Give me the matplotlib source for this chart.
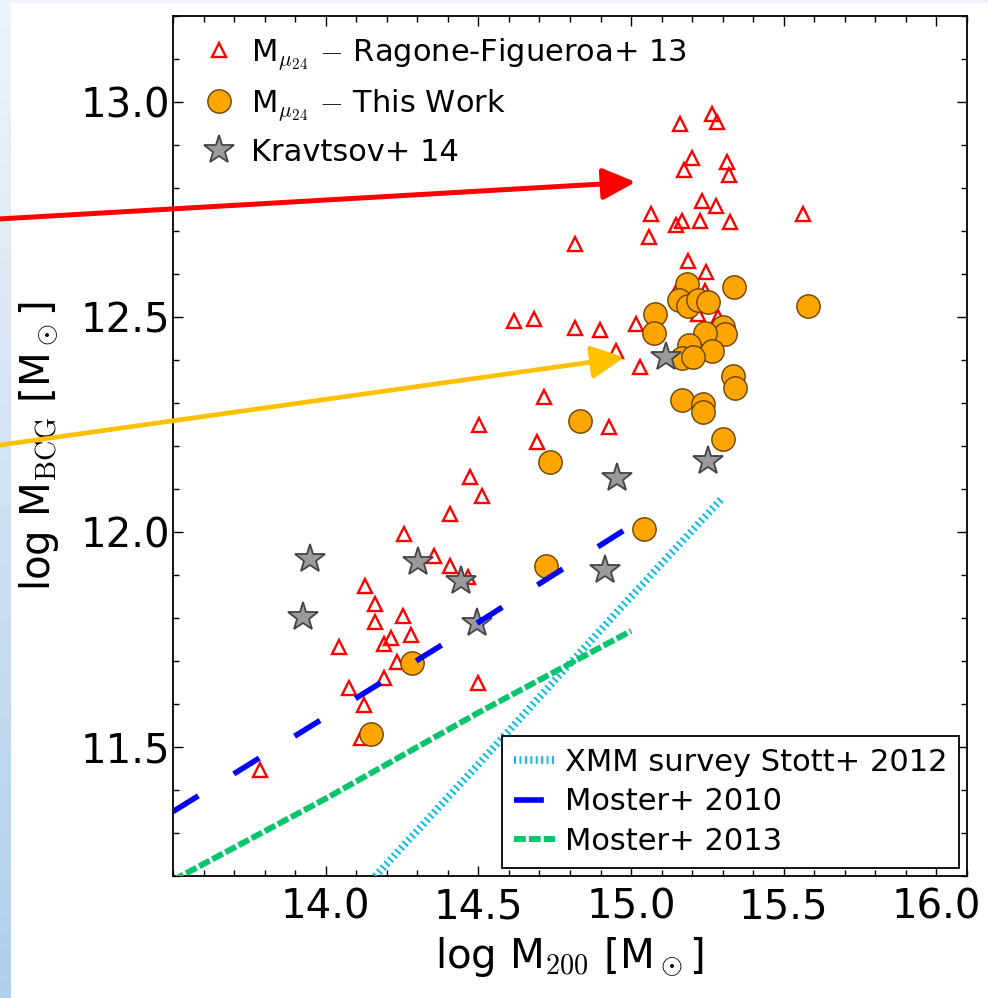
import numpy as np
import matplotlib
matplotlib.use("Agg")
import matplotlib.pyplot as plt
from matplotlib.ticker import MultipleLocator, FixedLocator, FormatStrFormatter
from matplotlib.patches import Rectangle

plt.rcParams["font.family"] = ["DejaVu Sans"]
plt.rcParams["mathtext.fontset"] = "cm"
plt.rcParams["mathtext.default"] = "it"
# dash patterns given in points, not scaled by the line width
plt.rcParams["lines.scale_dashes"] = False

# Ragone-Figueroa+ 13 (log M200, log M_BCG)
rf13_m200 = [15.160, 15.264, 15.281, 15.199, 15.173, 15.313, 15.320, 15.232, 15.277,
             15.065, 15.058, 15.146, 15.166, 15.225, 15.323, 15.562, 15.186, 15.245,
             15.241, 14.816, 14.616, 14.681, 14.816, 14.897, 15.015, 14.950, 15.028,
             14.714, 14.927, 14.691, 14.501, 14.472, 14.511, 14.406, 14.256, 14.354,
             14.406, 14.465, 14.128, 14.161, 14.161, 14.252, 14.278, 14.213, 14.190,
             14.043, 14.233, 14.190, 14.075, 14.124, 14.115, 14.498, 13.784, 15.218,
             15.284, 15.150]
rf13_mbcg = [12.949, 12.972, 12.953, 12.870, 12.842, 12.860, 12.830, 12.769, 12.758,
             12.739, 12.686, 12.713, 12.723, 12.723, 12.720, 12.739, 12.630, 12.604,
             12.560, 12.669, 12.490, 12.495, 12.474, 12.471, 12.483, 12.420, 12.383,
             12.315, 12.245, 12.210, 12.248, 12.129, 12.085, 12.043, 11.996, 11.945,
             11.921, 11.896, 11.875, 11.833, 11.791, 11.805, 11.761, 11.754, 11.740,
             11.733, 11.698, 11.661, 11.637, 11.598, 11.521, 11.649, 11.446, 12.506,
             12.499, 12.564]

# this work
tw_m200 = [15.182, 15.336, 15.156, 15.186, 15.218, 15.251, 15.078, 15.074, 15.579,
           15.300, 15.307, 15.241, 15.189, 15.264, 15.166, 15.202, 15.333, 15.340,
           15.166, 15.235, 15.235, 15.300, 14.832, 14.734, 15.042, 14.721, 14.282,
           14.147]
tw_mbcg = [12.578, 12.571, 12.539, 12.525, 12.539, 12.536, 12.506, 12.464, 12.525,
           12.476, 12.460, 12.462, 12.436, 12.420, 12.404, 12.408, 12.364, 12.334,
           12.308, 12.297, 12.280, 12.217, 12.259, 12.164, 12.008, 11.921, 11.696,
           11.530]

# Kravtsov+ 14
k14_m200 = [13.948, 13.925, 14.301, 14.442, 14.495, 14.953, 14.914, 15.251, 15.114]
k14_mbcg = [11.938, 11.803, 11.931, 11.887, 11.789, 12.126, 11.912, 12.166, 12.408]

# relations
stott_x = [14.15, 14.5, 15.0, 15.3]
stott_y = [11.19, 11.46, 11.85, 12.08]
moster10_x = [13.5, 14.0, 14.5, 14.99]
moster10_y = [11.35, 11.57, 11.79, 12.01]
moster13_x = [13.5, 14.0, 14.5, 15.0]
moster13_y = [11.19, 11.38, 11.58, 11.77]

xticks = [14.0, 14.5, 15.0, 15.5, 16.0]
yticks = [11.5, 12.0, 12.5, 13.0]

# arrow tips (data) and tails (figure fraction)
red_tip = (15.015, 12.814)
red_tail = (-0.02, 0.7795)
gold_tip = (14.978, 12.406)
gold_tail = (-0.02, 0.5513)

fig = plt.figure(figsize=(9.88, 9.98), dpi=100)
fig.patch.set_facecolor("white")

# slide background strip on the left and top
bg = fig.add_axes([0, 0, 11 / 988, 1])
grad = np.linspace(0, 1, 256).reshape(-1, 1)
cmap = matplotlib.colors.LinearSegmentedColormap.from_list("bg", ["#eef4fb", "#b1cfeb"])
bg.imshow(grad, aspect="auto", cmap=cmap, extent=[0, 1, 0, 1], origin="upper")
bg.axis("off")
fig.add_artist(Rectangle((0, 1 - 2.5 / 998), 1, 2.5 / 998, transform=fig.transFigure,
                         color="#eef3fa", lw=0))

ax = fig.add_axes([0.1751, 0.1222, 0.8036, 0.8617])

h1, = ax.plot(rf13_m200, rf13_mbcg, ls="none", marker="^", ms=10.5, mfc="none",
              mec="red", mew=1.7, zorder=2,
              label=r"M$_{\mu_{24}}$ $-$ Ragone-Figueroa+ 13")
h2, = ax.plot(tw_m200, tw_mbcg, ls="none", marker="o", ms=16.8, mfc="orange",
              mec="#6b4200", mew=1.0, zorder=3,
              label=r"M$_{\mu_{24}}$ $-$ This Work")
h3, = ax.plot(k14_m200, k14_mbcg, ls="none", marker="*", ms=22, mfc="#9a9a9a",
              mec="#444444", mew=1.3, zorder=3, label="Kravtsov+ 14")

l1, = ax.plot(stott_x, stott_y, color="#12bde0", lw=5.5, dashes=(1.5, 2.4),
              zorder=4, label="XMM survey Stott+ 2012")
l2, = ax.plot(moster10_x, moster10_y, color="blue", lw=4.0, dashes=(21.5, 30),
              solid_capstyle="butt", zorder=4, label="Moster+ 2010")
l3, = ax.plot(moster13_x, moster13_y, color="#08c46c", lw=4.3, dashes=(8.5, 2.2),
              zorder=4, label="Moster+ 2013")

ax.set_xlim(13.5, 16.1)
ax.set_ylim(11.2, 13.2)
ax.xaxis.set_major_locator(FixedLocator(xticks))
ax.xaxis.set_minor_locator(MultipleLocator(0.1))
ax.yaxis.set_major_locator(FixedLocator(yticks))
ax.yaxis.set_minor_locator(MultipleLocator(0.1))
ax.xaxis.set_major_formatter(FormatStrFormatter("%.1f"))
ax.yaxis.set_major_formatter(FormatStrFormatter("%.1f"))
ax.tick_params(which="both", direction="in", top=True, right=True, labelsize=29)
ax.tick_params(which="major", length=7, width=1.0)
ax.tick_params(which="minor", length=4, width=1.0)
ax.tick_params(axis="x", which="major", pad=8)
ax.tick_params(axis="y", which="major", pad=2)
for sp in ax.spines.values():
    sp.set_linewidth(1.3)

ax.set_xlabel(r"log M$_{200}$ [M$_\odot$]", fontsize=29, labelpad=6)
ax.set_ylabel(r"log M$_{\rm BCG}$ [M$_\odot$]", fontsize=29, labelpad=14)

leg1 = ax.legend(handles=[h1, h2, h3], loc="upper left", bbox_to_anchor=(0, 1.012),
                 frameon=False, fontsize=22, numpoints=1, handlelength=1.0,
                 handletextpad=0.55, labelspacing=0.48, borderaxespad=0.6)
ax.add_artist(leg1)
leg2 = ax.legend(handles=[l1, l2, l3], loc="lower right", fontsize=22, fancybox=False,
                 edgecolor="black", framealpha=1, handlelength=1.35,
                 handletextpad=0.3, labelspacing=0.35, borderpad=0.4,
                 borderaxespad=0.25)
leg2.get_frame().set_linewidth(1.3)

ax.annotate("", xy=red_tip, xycoords="data", xytext=red_tail,
            textcoords="figure fraction",
            arrowprops=dict(arrowstyle="-|>,head_length=1.0,head_width=0.48",
                            mutation_scale=20, color="red", lw=3.6,
                            shrinkA=0, shrinkB=0), annotation_clip=False, zorder=6)
ax.annotate("", xy=gold_tip, xycoords="data", xytext=gold_tail,
            textcoords="figure fraction",
            arrowprops=dict(arrowstyle="-|>,head_length=1.0,head_width=0.5",
                            mutation_scale=20, color="#ffc000", lw=3.4,
                            shrinkA=0, shrinkB=0), annotation_clip=False, zorder=6)

fig.savefig("out.png", dpi=100)
